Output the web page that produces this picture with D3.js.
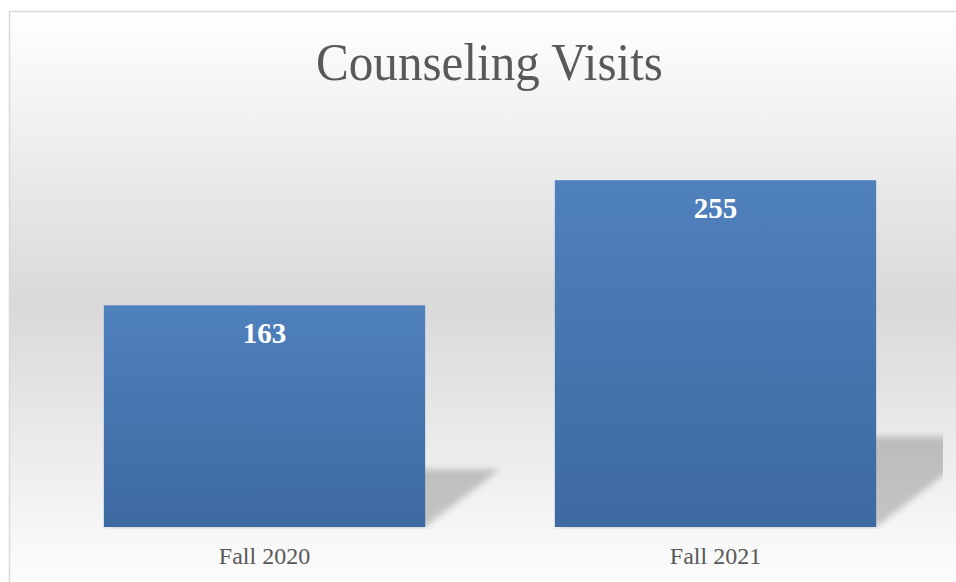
<!DOCTYPE html>
<html>
<head>
<meta charset="utf-8">
<script src="https://cdn.jsdelivr.net/npm/d3@7"></script>
<style>
    html, body { margin: 0; padding: 0; background: #ffffff; }
</style>
</head>
<body>
<div id="svgcontainer"></div>
<script>
// data
const categories = ['Fall 2020', 'Fall 2021']
const visits = [163, 255]
const chart_title = 'Counseling Visits'

const svg_width = 956,
    svg_height = 582

const plot = { left: 39, right: 941, top: 119, bottom: 527, clip_right: 943 }

let svg = d3.select('#svgcontainer')
    .append('svg')
    .attr('width', svg_width)
    .attr('height', svg_height)

let defs = svg.append('defs')

// background: white -> gray -> white
let bg = defs.append('linearGradient')
    .attr('id', 'bggrad')
    .attr('gradientUnits', 'userSpaceOnUse')
    .attr('x1', 0).attr('y1', 11)
    .attr('x2', 0).attr('y2', 600)
bg.append('stop').attr('offset', '0%').attr('stop-color', '#ffffff')
bg.append('stop').attr('offset', '50%').attr('stop-color', '#d9d9d9')
bg.append('stop').attr('offset', '100%').attr('stop-color', '#ffffff')

// bar fill
let bargrad = defs.append('linearGradient')
    .attr('id', 'bargrad')
    .attr('x1', 0).attr('y1', 0)
    .attr('x2', 0).attr('y2', 1)
bargrad.append('stop').attr('offset', '0%').attr('stop-color', '#4f81bd')
bargrad.append('stop').attr('offset', '100%').attr('stop-color', '#3c69a0')

defs.append('filter')
    .attr('id', 'blur')
    .attr('x', '-20%').attr('y', '-20%')
    .attr('width', '140%').attr('height', '140%')
    .append('feGaussianBlur')
    .attr('stdDeviation', 3)

defs.append('clipPath')
    .attr('id', 'plotclip')
    .append('rect')
    .attr('x', 0).attr('y', 0)
    .attr('width', plot.clip_right).attr('height', plot.bottom + 2)

// chart frame
svg.append('rect')
    .attr('x', 9.5)
    .attr('y', 11.5)
    .attr('width', 1000)
    .attr('height', 700)
    .attr('fill', 'url(#bggrad)')
    .attr('stroke', '#d9d9d9')
    .attr('stroke-width', 1.5)

// title
svg.append('text')
    .attr('x', 489.5)
    .attr('y', 80)
    .attr('text-anchor', 'middle')
    .attr('font-family', 'Liberation Serif, serif')
    .attr('font-size', 53)
    .attr('fill', '#595959')
    .attr('textLength', 347)
    .attr('lengthAdjust', 'spacingAndGlyphs')
    .text(chart_title)

// scales
let xScale = d3.scaleBand()
    .domain(categories)
    .range([plot.left, plot.right])
    .paddingInner(0.2875)
    .paddingOuter(0.14375)

let yScale = d3.scaleLinear()
    .domain([0, 300])
    .range([plot.bottom, plot.top])

// perspective shadows behind bars
let shadows = svg.append('g').attr('clip-path', 'url(#plotclip)')
for (let i = 0; i < categories.length; i++) {
    let x0 = xScale(categories[i]),
        x1 = x0 + xScale.bandwidth(),
        h = plot.bottom - yScale(visits[i]),
        sh = 0.26 * h,
        dx = 1.3 * sh
    let pts = [[x0, plot.bottom], [x1, plot.bottom], [x1 + dx, plot.bottom - sh], [x0 + dx, plot.bottom - sh]]
    shadows.append('polygon')
        .attr('points', pts.map(p => p.join(',')).join(' '))
        .attr('fill', 'rgba(0,0,0,0.2)')
        .attr('filter', 'url(#blur)')
}

// bars
svg.selectAll('.bar')
    .data(visits)
    .enter()
    .append('rect')
    .attr('class', 'bar')
    .attr('x', (d, i) => xScale(categories[i]))
    .attr('y', d => yScale(d))
    .attr('width', xScale.bandwidth())
    .attr('height', d => plot.bottom - yScale(d))
    .attr('fill', 'url(#bargrad)')

// value labels inside bar tops
svg.selectAll('.vlabel')
    .data(visits)
    .enter()
    .append('text')
    .attr('class', 'vlabel')
    .attr('x', (d, i) => xScale(categories[i]) + xScale.bandwidth() / 2)
    .attr('y', d => yScale(d) + 38)
    .attr('text-anchor', 'middle')
    .attr('font-family', 'Liberation Serif, serif')
    .attr('font-weight', 'bold')
    .attr('font-size', 29)
    .attr('fill', '#ffffff')
    .text(d => d)

// category axis (labels only)
let x_axis = d3.axisBottom(xScale).tickSize(0).tickPadding(0)
let xg = svg.append('g')
    .attr('transform', 'translate(0,' + plot.bottom + ')')
    .call(x_axis)
xg.select('.domain').remove()
xg.selectAll('text')
    .attr('dy', null)
    .attr('y', 37)
    .attr('font-family', 'Liberation Serif, serif')
    .attr('font-size', 24)
    .attr('fill', '#595959')
</script>
</body>
</html>
